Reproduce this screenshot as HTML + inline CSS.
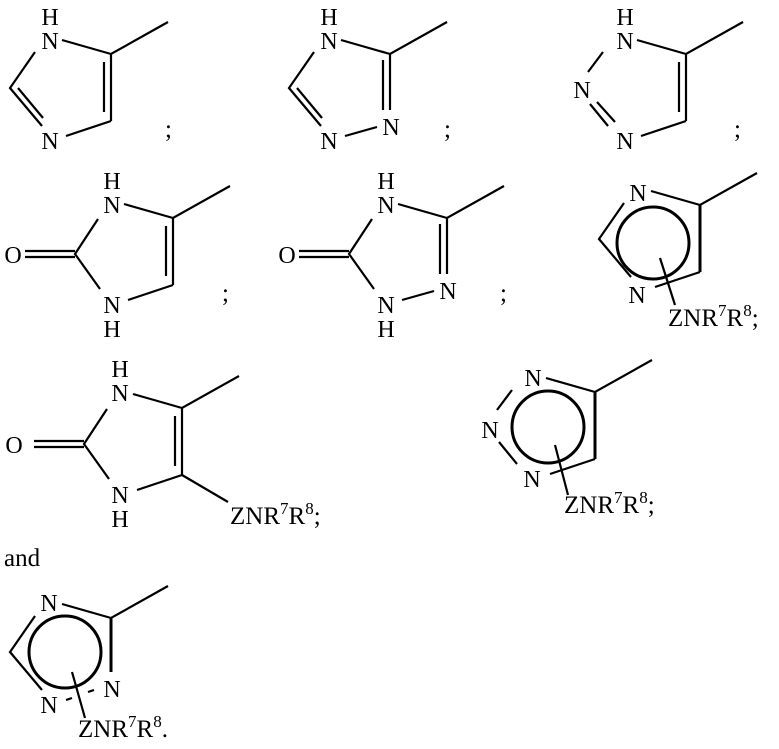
<!DOCTYPE html>
<html><head><meta charset="utf-8"><style>
html,body{margin:0;padding:0;background:#fff}
svg{display:block}
text{font-family:"Liberation Serif",serif;fill:#000}
.l{font-size:24px;text-anchor:middle}
.t{font-size:25px}
</style></head><body>
<svg width="779" height="749" viewBox="0 0 779 749" xmlns="http://www.w3.org/2000/svg">
<g stroke="#000" stroke-width="2.2" fill="none" stroke-linecap="butt">
<g>
<path d="M62 40L111 54L168 22M111 54V121M104 62V112M111 121L66 136M42 126L10 88L35 52M43 118L18 88"/>
</g>
<g transform="translate(279,0)">
<path d="M62 40L111 54L168 22M111 54V110M104 60V110M98 127L66 136M42 126L10 88L35 52M43 118L18 88"/>
</g>
<g transform="translate(575,0)">
<path d="M62 40L111 54L168 22M111 54V121M104 62V112M111 121L66 136M28 52L13 72M15 104L33 126M22 102L40 122"/>
</g>
<g transform="translate(62,164)">
<path d="M62 40L111 54L168 22M111 54V121M104 62V112M111 121L66 136M38 125L13 90L36 55M-37 87H13M-37 93H13"/>
</g>
<g transform="translate(336,164)">
<path d="M62 40L111 54L168 22M111 54V110M104 60V110M98 127L66 136M38 125L13 90L36 55M-37 87H13M-37 93H13"/>
</g>
<g transform="translate(589,151)">
<path d="M62 40L111 54L168 22M66 136L111 121M42 126L10 88L35 52M71 107L86 154"/>
<path d="M111 54V121" stroke-width="3"/>
<circle cx="64" cy="92" r="36" stroke-width="3"/>
</g>
<g transform="translate(71,354)">
<path d="M62 40L111 54L168 22M111 54V121M104 62V112M111 121L66 136M38 125L13 90L36 55M-37 87H13M-37 93H13M111 121L157 148"/>
</g>
<g transform="translate(484,338)">
<path d="M62 40L111 54L168 22M66 136L111 121M28 52L13 72M15 104L33 126M71 107L84 157"/>
<path d="M111 54V121" stroke-width="3"/>
<circle cx="64" cy="89" r="36" stroke-width="3"/>
</g>
<g transform="translate(0,564)">
<path d="M62 40L111 54L168 22M42 126L10 88L35 52M72 108L85 154M66 136L72 134M88 128L94 126"/>
<path d="M111 54V108" stroke-width="3"/>
<circle cx="65" cy="88" r="36" stroke-width="3"/>
</g>
</g>
<g>
<text class="l" x="50" y="25">H</text><text class="l" x="50" y="49">N</text><text class="l" x="50" y="149">N</text>
<text class="t" x="165" y="137">;</text>

<text class="l" x="329" y="25">H</text><text class="l" x="329" y="49">N</text><text class="l" x="329" y="149">N</text><text class="l" x="391" y="135">N</text>
<text class="t" x="444" y="137">;</text>

<text class="l" x="625" y="25">H</text><text class="l" x="625" y="49">N</text><text class="l" x="582" y="98">N</text><text class="l" x="625" y="149">N</text>
<text class="t" x="734" y="137">;</text>

<text class="l" x="112" y="189">H</text><text class="l" x="112" y="213">N</text><text class="l" x="13" y="263">O</text><text class="l" x="112" y="313">N</text><text class="l" x="112" y="337">H</text>
<text class="t" x="222" y="301">;</text>

<text class="l" x="386" y="189">H</text><text class="l" x="386" y="213">N</text><text class="l" x="287" y="263">O</text><text class="l" x="386" y="313">N</text><text class="l" x="386" y="337">H</text><text class="l" x="448" y="299">N</text>
<text class="t" x="500" y="301">;</text>

<text class="l" x="638" y="201">N</text><text class="l" x="637" y="303">N</text>
<text class="t" x="668" y="326">ZNR<tspan font-size="17" dy="-10">7</tspan><tspan dy="10">R</tspan><tspan font-size="17" dy="-10">8</tspan><tspan dy="10">;</tspan></text>

<text class="l" x="120" y="377">H</text><text class="l" x="120" y="401">N</text><text class="l" x="14" y="453">O</text><text class="l" x="120" y="503">N</text><text class="l" x="120" y="527">H</text>
<text class="t" x="230" y="524">ZNR<tspan font-size="17" dy="-10">7</tspan><tspan dy="10">R</tspan><tspan font-size="17" dy="-10">8</tspan><tspan dy="10">;</tspan></text>

<text class="l" x="533" y="386">N</text><text class="l" x="490" y="438">N</text><text class="l" x="532" y="487">N</text>
<text class="t" x="564" y="513">ZNR<tspan font-size="17" dy="-10">7</tspan><tspan dy="10">R</tspan><tspan font-size="17" dy="-10">8</tspan><tspan dy="10">;</tspan></text>

<text class="t" x="4" y="566">and</text>
<text class="l" x="49" y="611">N</text><text class="l" x="112" y="697">N</text><text class="l" x="49" y="713">N</text>
<text class="t" x="78" y="737">ZNR<tspan font-size="17" dy="-10">7</tspan><tspan dy="10">R</tspan><tspan font-size="17" dy="-10">8</tspan><tspan dy="10">.</tspan></text>
</g>
</svg>
</body></html>
